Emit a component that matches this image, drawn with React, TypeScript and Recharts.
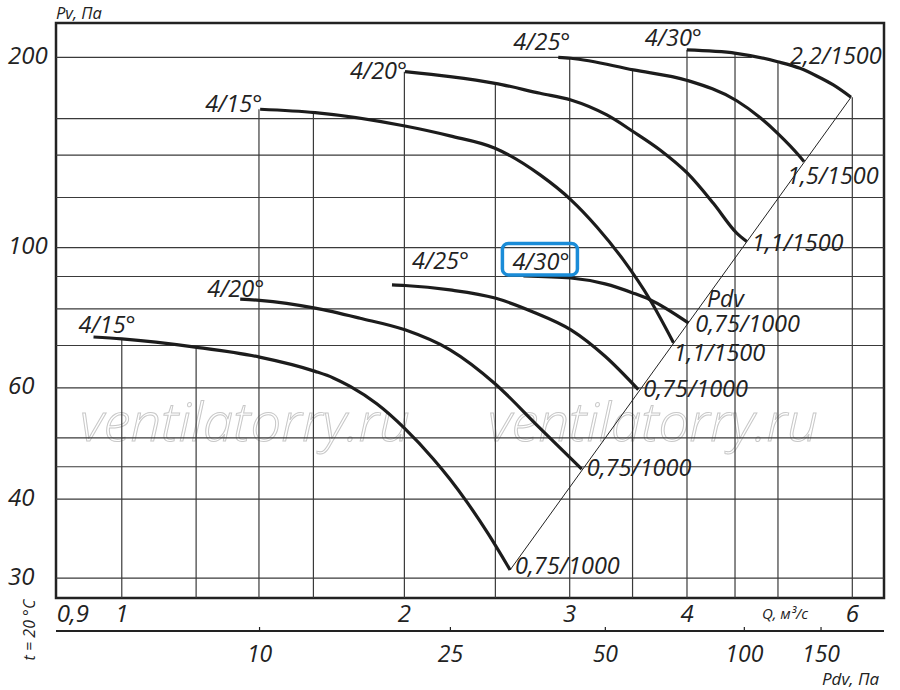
import React from 'react';
import { LineChart, Line, XAxis, YAxis, ReferenceLine, ReferenceArea } from 'recharts';

const FONT = '"Open Sans", "DejaVu Sans", sans-serif';
const INK = '#1c1c1c';
const GRID = '#3a3a3a';

// axis ranges (log-log), read from the frame edges
const Q_MIN = 0.851;
const Q_MAX = 6.485;
const P_MIN = 27.9;
const P_MAX = 226.6;

const Q_TICKS = [0.9, 1, 2, 3, 4, 6];
const Q_TICK_LABELS = ['0,9', '1', '2', '3', '4', '6'];
const PV_TICKS = [30, 40, 60, 100, 200];
// Pdv scale under the Q axis: flow value at each Pdv tick
const PDV_TICK_Q = [1.402, 2.239, 3.274, 4.604, 5.557];
const PDV_TICK_LABELS = ['10', '25', '50', '100', '150'];

// grid: vertical lines stop at the upper curve
const GRID_Q = [1, 1.2, 1.4, 1.6, 2, 2.5, 3, 3.5, 4, 4.5, 5, 6];
const GRID_Q_TOP = [71.7, 69.6, 165.5, 163.5, 189.8, 181.9, 199.3, 191.0, 205.4, 202.9, 196.8, 172.9];
const GRID_P = [30, 40, 45, 50, 60, 70, 80, 90, 100, 120, 140, 160, 200];
const GRID_P_END = [Q_MAX, Q_MAX, Q_MAX, Q_MAX, Q_MAX, Q_MAX, Q_MAX, Q_MAX, Q_MAX, Q_MAX, Q_MAX, Q_MAX, 4.69];

// 1000 rpm, 0.75 kW
const L15_Q = [0.933, 1.0, 1.197, 1.402, 1.607, 1.68, 1.751, 1.869, 2.0, 2.147, 2.237, 2.331, 2.455, 2.592];
const L15_P = [72.2, 71.7, 69.6, 67.1, 63.7, 62.2, 60.3, 56.6, 51.8, 46.3, 43.0, 39.6, 35.3, 30.9];
const L20_Q = [1.337, 1.402, 1.607, 1.794, 2.003, 2.237, 2.498, 2.778, 3.09];
const L20_P = [82.9, 82.5, 80.2, 77.3, 74.1, 68.9, 60.9, 52.1, 44.6];
const L25_Q = [1.94, 2.003, 2.237, 2.498, 2.742, 3.009, 3.272, 3.55];
const L25_P = [87.3, 87.1, 85.7, 83.2, 79.1, 74.1, 67.3, 59.6];
const L30_Q = [2.678, 3.009, 3.272, 3.507, 3.653, 4.013];
const L30_P = [90.2, 89.5, 87.6, 84.7, 82.7, 76.0];

// 1500 rpm
const U15_Q = [1.404, 1.607, 2.003, 2.237, 2.498, 2.79, 3.009, 3.205, 3.422, 3.653, 3.87];
const U15_P = [165.5, 163.5, 155.7, 150.2, 143.6, 130.3, 119.0, 107.9, 95.6, 82.7, 70.7];
const U20_Q = [2.003, 2.237, 2.498, 2.79, 3.009, 3.286, 3.507, 3.744, 4.004, 4.267, 4.519, 4.632];
const U20_P = [189.8, 186.4, 181.9, 175.4, 171.2, 162.1, 152.5, 142.7, 131.1, 117.5, 105.4, 102.2];
const U25_Q = [2.917, 3.009, 3.507, 4.004, 4.519, 4.784, 4.996, 5.278, 5.33];
const U25_P = [200, 199.3, 191.0, 183.8, 170.7, 160.6, 151.6, 139.2, 136.8];
const U30_Q = [3.998, 4.512, 4.996, 5.278, 5.498, 5.727, 5.981];
const U30_P = [205.4, 202.9, 196.8, 192.1, 186.8, 180.8, 172.9];

// dynamic pressure line
const PDV_Q = [2.592, 5.981];
const PDV_P = [30.9, 172.9];

const ANGLES = ['4/15°', '4/20°', '4/25°', '4/30°', '4/15°', '4/20°', '4/25°', '4/30°'];
const MOTORS = ['0,75/1000', '0,75/1000', '0,75/1000', '0,75/1000', '1,1/1500', '1,1/1500', '1,5/1500', '2,2/1500'];

const toRows = (q: number[], p: number[]) => q.map((v, i) => ({ q: v, p: p[i] }));

const CURVES = [
  { id: 'l15', data: toRows(L15_Q, L15_P), start: [-15, -13], end: [5, -5] },
  { id: 'l20', data: toRows(L20_Q, L20_P), start: [-33, -11], end: [5, -2] },
  { id: 'l25', data: toRows(L25_Q, L25_P), start: [20, -25], end: [5, -2] },
  { id: 'l30', data: toRows(L30_Q, L30_P), start: [-11, -15], end: [7, 0], boxed: true },
  { id: 'u15', data: toRows(U15_Q, U15_P), start: [-55, -6], end: [0, 9] },
  { id: 'u20', data: toRows(U20_Q, U20_P), start: [-55, -2], end: [5, 0] },
  { id: 'u25', data: toRows(U25_Q, U25_P), start: [-45, -16], end: [-17, 13] },
  { id: 'u30', data: toRows(U30_Q, U30_P), start: [-42, -13], end: [-61, -42] },
];

const textStyle = { fontFamily: FONT, fontStyle: 'italic' as const, fill: '#222' };
const LABEL_SIZE = 23.5;

function curveLabel(props: any, i: number, n: number, cfg: any) {
  const { x, y, index } = props;
  if (index === 0) {
    const tx = x + cfg.start[0];
    const ty = y + cfg.start[1];
    return (
      <g key={`s-${cfg.id}`}>
        {cfg.boxed && (
          <rect x={tx - 10} y={ty - 17.5} width={75} height={31.5} rx={6} fill="none" stroke="#1a8cd8" strokeWidth={3.5} />
        )}
        <text x={tx} y={ty} dominantBaseline="central" fontSize={LABEL_SIZE} style={textStyle}>
          {ANGLES[i]}
        </text>
      </g>
    );
  }
  if (index === n - 1) {
    return (
      <text key={`e-${cfg.id}`} x={x + cfg.end[0]} y={y + cfg.end[1]} dominantBaseline="central" fontSize={LABEL_SIZE} style={textStyle}>
        {MOTORS[i]}
      </text>
    );
  }
  return <g key={`n-${cfg.id}-${index}`} />;
}

const PvTick = (props: any) => (
  <text x={8} y={props.y - 3} dominantBaseline="central" textAnchor="start" fontSize={24} style={textStyle}>
    {props.payload.value}
  </text>
);

const QTick = (props: any) => {
  const i = Q_TICKS.indexOf(props.payload.value);
  const dx = props.payload.value < 1 ? -6 : 0;
  return (
    <text x={props.x + dx} y={props.y + 14} dominantBaseline="central" textAnchor="middle" fontSize={24} style={textStyle}>
      {Q_TICK_LABELS[i]}
    </text>
  );
};

const PdvTick = (props: any) => {
  const i = PDV_TICK_Q.indexOf(props.payload.value);
  return (
    <g>
      <line x1={props.x} y1={props.y} x2={props.x} y2={props.y - 4} stroke="#222" strokeWidth={1.2} />
      <text x={props.x} y={props.y + 22} dominantBaseline="central" textAnchor="middle" fontSize={23} style={textStyle}>
        {PDV_TICK_LABELS[i]}
      </text>
    </g>
  );
};

export default function App() {
  return (
    <div style={{ position: 'absolute', left: 0, top: 0, width: 900, height: 690, background: '#fff' }}>
      <LineChart width={900} height={690} margin={{ top: 23, right: 16, bottom: 19, left: 0 }}>
        <XAxis
          xAxisId="a"
          dataKey="q"
          type="number"
          scale="log"
          domain={[Q_MIN, Q_MAX]}
          allowDataOverflow
          ticks={Q_TICKS}
          interval={0}
          height={33}
          axisLine={false}
          tickLine={false}
          tickSize={0}
          tickMargin={0}
          tick={QTick}
        />
        <XAxis
          xAxisId="b"
          dataKey="q"
          type="number"
          scale="log"
          domain={[Q_MIN, Q_MAX]}
          allowDataOverflow
          ticks={PDV_TICK_Q}
          interval={0}
          height={40}
          axisLine={{ stroke: '#222', strokeWidth: 2 }}
          tickLine={false}
          tickSize={0}
          tickMargin={0}
          tick={PdvTick}
        />
        <YAxis
          yAxisId="p"
          dataKey="p"
          type="number"
          scale="log"
          domain={[P_MIN, P_MAX]}
          allowDataOverflow
          ticks={PV_TICKS}
          interval={0}
          width={56}
          axisLine={false}
          tickLine={false}
          tickSize={0}
          tickMargin={0}
          tick={PvTick}
        />

        {GRID_P.map((p, i) => (
          <ReferenceLine
            key={`gp-${p}`}
            xAxisId="a"
            yAxisId="p"
            segment={[{ x: Q_MIN, y: p }, { x: GRID_P_END[i], y: p }]}
            stroke={GRID}
            strokeWidth={1.2}
          />
        ))}
        {GRID_Q.map((q, i) => (
          <ReferenceLine
            key={`gq-${q}`}
            xAxisId="a"
            yAxisId="p"
            segment={[{ x: q, y: GRID_Q_TOP[i] }, { x: q, y: P_MIN }]}
            stroke={GRID}
            strokeWidth={1.2}
          />
        ))}
        <ReferenceArea
          xAxisId="a"
          yAxisId="p"
          x1={Q_MIN}
          x2={Q_MAX}
          y1={P_MIN}
          y2={P_MAX}
          fill="none"
          fillOpacity={0}
          stroke="#222"
          strokeWidth={2.5}
        />

        <Line
          xAxisId="b"
          yAxisId="p"
          data={toRows(PDV_Q, PDV_P)}
          dataKey="p"
          type="linear"
          stroke="#222"
          strokeWidth={1}
          dot={false}
          isAnimationActive={false}
        />
        {CURVES.map((c, i) => (
          <Line
            key={c.id}
            xAxisId="a"
            yAxisId="p"
            data={c.data}
            dataKey="p"
            type="monotone"
            stroke={INK}
            strokeWidth={3.2}
            dot={false}
            isAnimationActive={false}
            label={(props: any) => curveLabel(props, i, c.data.length, c)}
          />
        ))}

        <text x={56} y={12} dominantBaseline="central" fontSize={16.5} style={textStyle}>Pv, Па</text>
        <text x={707} y={298} dominantBaseline="central" fontSize={23} style={textStyle}>Pdv</text>
        <text x={785} y={613} dominantBaseline="central" textAnchor="middle" fontSize={15} style={textStyle}>Q, м³/с</text>
        <text x={822} y={678} dominantBaseline="central" fontSize={17} style={textStyle}>Pdv, Па</text>
        <text x={29} y={630} transform="rotate(-90 29 630)" dominantBaseline="central" textAnchor="middle" fontSize={16} style={textStyle}>t = 20 °C</text>
        <text x={80} y={441} fontSize={54} fontFamily={FONT} fontStyle="italic" fontWeight={300} fill="none" stroke="#c8c8c8" strokeWidth={1} textLength={330} lengthAdjust="spacingAndGlyphs">ventilatorry.ru</text>
        <text x={488} y={441} fontSize={54} fontFamily={FONT} fontStyle="italic" fontWeight={300} fill="none" stroke="#c8c8c8" strokeWidth={1} textLength={330} lengthAdjust="spacingAndGlyphs">ventilatorry.ru</text>
      </LineChart>
    </div>
  );
}
